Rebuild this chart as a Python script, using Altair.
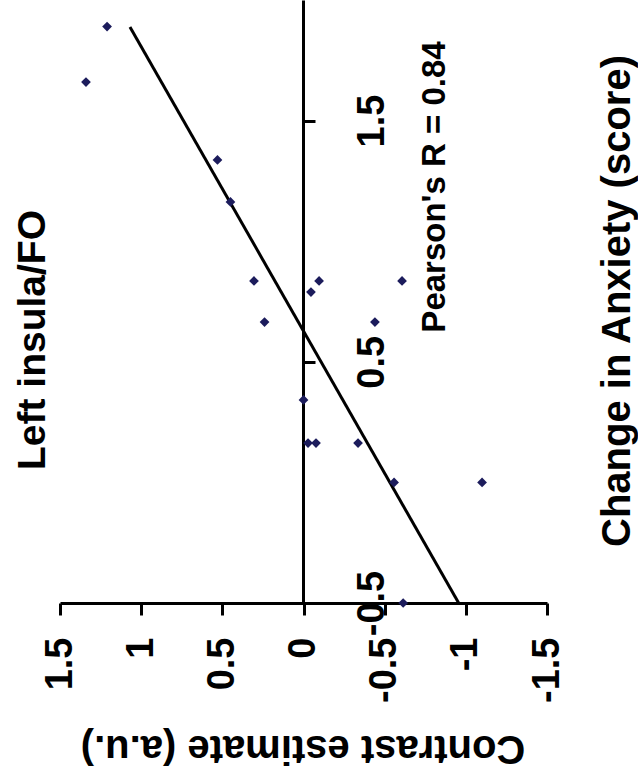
import altair as alt
import pandas as pd

# ---- data ----
contrast = [1.21, 1.34, 0.53, 0.45, 0.305, 0.24, -0.046, -0.096, -0.607, -0.44,
            0.0, -0.028, -0.077, -0.336, -0.558, -1.10, -0.614]
anxiety = [1.89, 1.66, 1.337, 1.163, 0.835, 0.665, 0.789, 0.835, 0.835, 0.665,
           0.342, 0.163, 0.163, 0.163, 0.0, 0.0, -0.5]

fit_contrast = [-0.956, 1.069]
fit_anxiety = [-0.5, 1.888]

contrast_ticks = [-1.5, -1, -0.5, 0, 0.5, 1, 1.5]
anxiety_ticks = [-0.5, 0.5, 1.5]

panel_title = ["Left insula/FO"]
x_title = ["Change in Anxiety  (score)"]
y_title = ["Contrast estimate (a.u.)"]
stat_text = ["Pearson's R = 0.84"]

FONT = "Liberation Sans"

pts = pd.DataFrame({"contrast": contrast, "anxiety": anxiety})
fit = pd.DataFrame({"contrast": fit_contrast, "anxiety": fit_anxiety})

x_enc = alt.X(
    "contrast:Q",
    scale=alt.Scale(domain=[-1.5, 1.5], reverse=True, nice=False, zero=False),
    axis=alt.Axis(
        values=contrast_ticks, title=None, orient="bottom",
        labelExpr="toString(datum.value)",
        labelAngle=270, labelAlign="right", labelBaseline="middle",
        labelPadding=22, tickSize=12, labelFlush=False, labelOverlap=False,
        labelFont=FONT, labelFontSize=38, labelFontWeight="bold", labelColor="black",
        domainColor="black", domainWidth=3, tickColor="black", tickWidth=3,
        grid=False,
    ),
)
y_enc = alt.Y(
    "anxiety:Q",
    scale=alt.Scale(domain=[-0.5, 2.0], nice=False, zero=False),
    axis=alt.Axis(
        values=anxiety_ticks, title=None, orient="right", offset=-244,
        labelExpr="toString(datum.value)",
        labelAngle=270, labelAlign="center", labelBaseline="top",
        labelPadding=38, tickSize=12, labelFlush=False, labelOverlap=False,
        labelBound=False,
        labelFont=FONT, labelFontSize=38, labelFontWeight="bold", labelColor="black",
        domainColor="black", domainWidth=3, tickColor="black", tickWidth=3,
        grid=False,
    ),
)

line = alt.Chart(fit).mark_line(color="black", strokeWidth=3).encode(x=x_enc, y=y_enc)
points = alt.Chart(pts).mark_point(
    shape="diamond", filled=True, size=95, color="#1c1c5c", opacity=1
).encode(x=x_enc, y=y_enc)


def label(txt, x, y, angle, size):
    return alt.Chart(pd.DataFrame({"t": txt})).mark_text(
        angle=angle, font=FONT, fontSize=size, fontWeight="bold", color="black",
        align="center", baseline="middle",
    ).encode(x=alt.value(x), y=alt.value(y), text="t:N")


chart = alt.layer(
    line,
    points,
    label(panel_title, -27, 340, 270, 39),
    label(x_title, 558, 301, 270, 40),
    label(y_title, 243, 748, 180, 40),
    label(stat_text, 375, 187, 270, 33),
).properties(
    width=487,
    height=603,
    autosize=alt.AutoSizeParams(type="none"),
    padding={"left": 60, "top": 0, "right": 91, "bottom": 177},
    background="white",
).configure_view(stroke=None)

chart.save("out.html", embed_options={"renderer": "svg", "actions": False})
